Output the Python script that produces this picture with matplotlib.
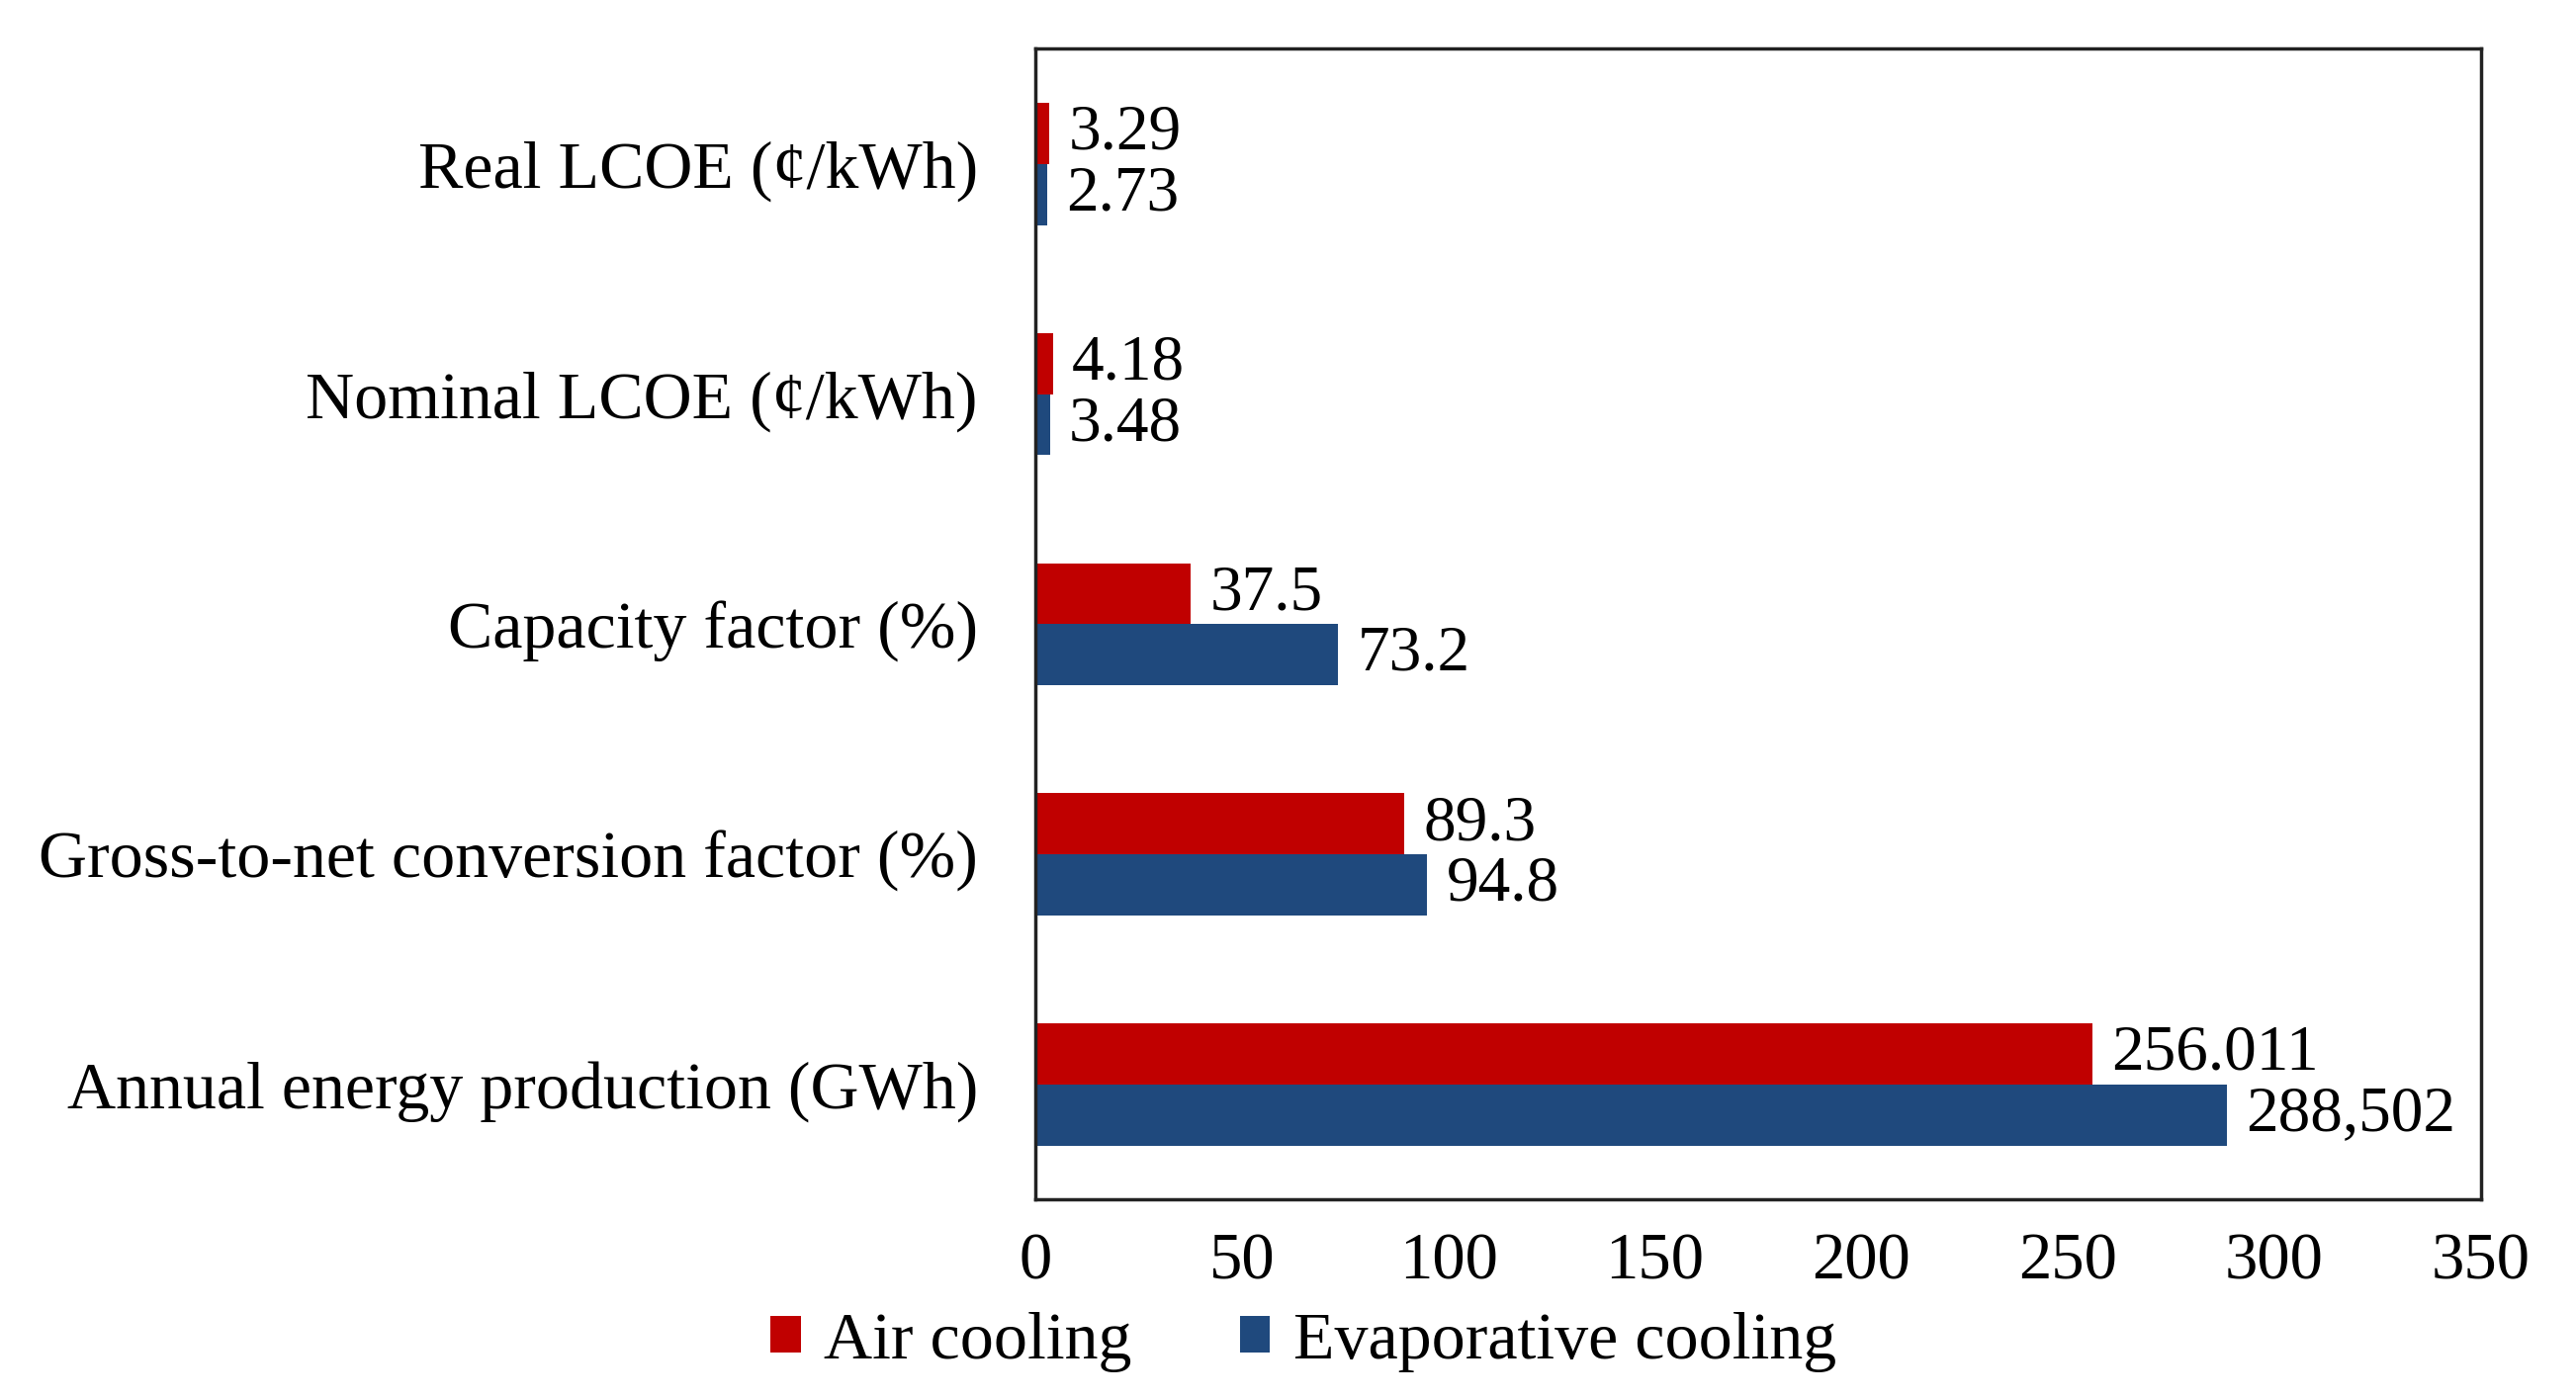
import matplotlib
matplotlib.use("Agg")
import matplotlib.pyplot as plt
import numpy as np

categories = ["Annual energy production (GWh)",
              "Gross-to-net conversion factor (%)",
              "Capacity factor (%)",
              "Nominal LCOE (¢/kWh)",
              "Real LCOE (¢/kWh)"]
air_cooling = [256.011, 89.3, 37.5, 4.18, 3.29]
evap_cooling = [288.502, 94.8, 73.2, 3.48, 2.73]
air_labels = ["256.011", "89.3", "37.5", "4.18", "3.29"]
evap_labels = ["288,502", "94.8", "73.2", "3.48", "2.73"]
xticks = [0, 50, 100, 150, 200, 250, 300, 350]

plt.rcParams['font.family'] = ['Liberation Serif', 'DejaVu Serif']

RED = "#C00000"
BLUE = "#1F497D"

fig = plt.figure(figsize=(26.05, 14.14), dpi=100)
ax = fig.add_axes([0.402, 0.142, 0.561, 0.823])

y = np.arange(len(categories))
h = 0.265
ax.barh(y + h / 2, air_cooling, height=h, color=RED, label="Air cooling")
ax.barh(y - h / 2, evap_cooling, height=h, color=BLUE, label="Evaporative cooling")

for yi, v, lab in zip(y, air_cooling, air_labels):
    ax.annotate(lab, (v, yi + h / 2), xytext=(14, 0), textcoords="offset points",
                va="center", ha="left", fontsize=47)
for yi, v, lab in zip(y, evap_cooling, evap_labels):
    ax.annotate(lab, (v, yi - h / 2), xytext=(14, 0), textcoords="offset points",
                va="center", ha="left", fontsize=47)

ax.set_xlim(0, 350)
ax.set_ylim(-0.5, len(categories) - 0.5)
ax.set_xticks(xticks)
ax.set_xticklabels([str(t) for t in xticks], fontsize=48)
ax.set_yticks(y)
ax.set_yticklabels(categories, fontsize=49)
ax.tick_params(axis='both', length=0)
ax.tick_params(axis='x', pad=24)
ax.tick_params(axis='y', pad=42)
for s in ax.spines.values():
    s.set_linewidth(2.5)
    s.set_color("#222222")

handles, labels = ax.get_legend_handles_labels()
fig.legend(handles, labels, loc="center", bbox_to_anchor=(0.506, 0.040), ncol=2,
           frameon=False, fontsize=49, handlelength=0.45, handleheight=0.45,
           handletextpad=0.35, columnspacing=1.6)

fig.savefig("out.png", dpi=100, facecolor="white")
